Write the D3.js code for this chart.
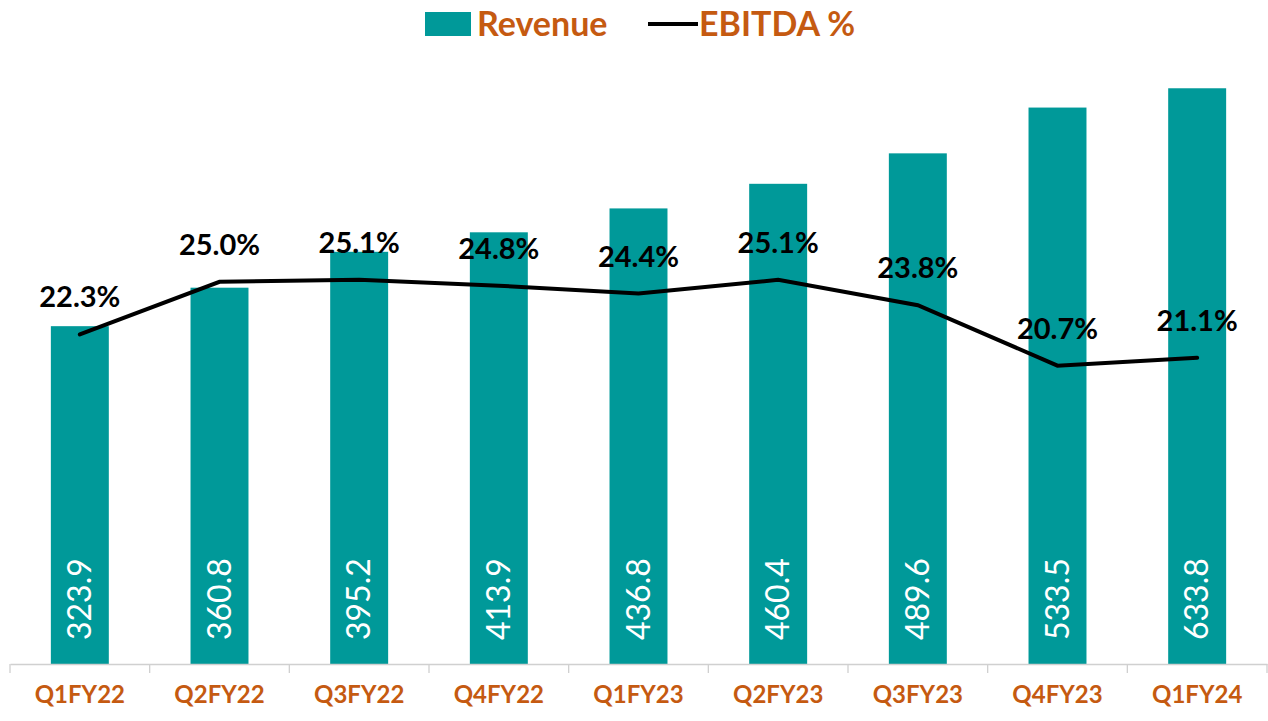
<!DOCTYPE html>
<html><head><meta charset="utf-8">
<script src="https://cdn.jsdelivr.net/npm/d3@7"></script>
<style>body{margin:0;background:#fff;font-family:Lato,"Open Sans",sans-serif;}</style>
</head><body><svg id="c" width="1268" height="721"></svg>
<script>
const categories = ["Q1FY22","Q2FY22","Q3FY22","Q4FY22","Q1FY23","Q2FY23","Q3FY23","Q4FY23","Q1FY24"];
const revenue = [323.9,360.8,395.2,413.9,436.8,460.4,489.6,533.5,552.0];
const revenueLabels = ["323.9","360.8","395.2","413.9","436.8","460.4","489.6","533.5","633.8"];
const ebitda = [22.3,25.0,25.1,24.8,24.4,25.1,23.8,20.7,21.1];

const teal = "#009999", orange = "#C55A11";
const svg = d3.select("#c");
const pLeft = 10, pRight = 1267, pTop = 54, pBottom = 664;

const x = d3.scaleBand().domain(categories).range([pLeft, pRight]).paddingInner(0.585).paddingOuter(0.2925);
const y = d3.scaleLinear().domain([0, (pBottom - pTop) / 1.043]).range([pBottom, pTop]);
const y2 = d3.scaleLinear().domain([5.4, 5.4 + (pBottom - pTop) / 19.5]).range([pBottom, pTop]);

// bars
svg.append("g").selectAll("rect").data(categories).join("rect")
  .attr("x", d => x(d)).attr("width", x.bandwidth())
  .attr("y", (d, i) => y(revenue[i])).attr("height", (d, i) => y(0) - y(revenue[i]))
  .attr("fill", teal);

// axis
const xb = d3.scaleBand().domain(categories).range([pLeft, pRight]);
const ax = svg.append("g").attr("transform", `translate(0,${pBottom})`)
  .call(d3.axisBottom(xb).tickSize(0).tickPadding(22));
ax.select(".domain").attr("stroke", "#d0d0d0").attr("stroke-width", 1.3);
ax.selectAll("text").attr("fill", orange).attr("font-size", 24).attr("font-weight", "bold")
  .attr("font-family", "Lato, sans-serif");
svg.append("g").selectAll("line").data(d3.range(categories.length + 1)).join("line")
  .attr("x1", i => pLeft + i * xb.step()).attr("x2", i => pLeft + i * xb.step())
  .attr("y1", pBottom).attr("y2", pBottom + 9).attr("stroke", "#d0d0d0").attr("stroke-width", 1.3);

// bar labels
svg.append("g").selectAll("text").data(categories).join("text")
  .attr("transform", d => `translate(${x(d) + x.bandwidth() / 2 + 11},${pBottom - 24}) rotate(-90)`)
  .attr("fill", "#fff").attr("font-size", 32).attr("font-family", "Lato, sans-serif")
  .text((d, i) => revenueLabels[i]);

// line
const cx = d => x(d) + x.bandwidth() / 2;
svg.append("path").datum(categories)
  .attr("d", d3.line().x(cx).y((d, i) => y2(ebitda[i])))
  .attr("fill", "none").attr("stroke", "#000").attr("stroke-width", 4).attr("stroke-linecap", "round");

svg.append("g").selectAll("text").data(categories).join("text")
  .attr("x", cx).attr("y", (d, i) => y2(ebitda[i]) - 27)
  .attr("text-anchor", "middle").attr("font-size", 29).attr("font-weight", "bold")
  .attr("font-family", "Lato, sans-serif").attr("fill", "#000")
  .text((d, i) => ebitda[i].toFixed(1) + "%");

// legend
const lg = svg.append("g");
lg.append("rect").attr("x", 425).attr("y", 12).attr("width", 46).attr("height", 24).attr("fill", teal);
lg.append("text").attr("x", 477).attr("y", 36).attr("fill", orange).attr("font-size", 34)
  .attr("font-weight", "bold").attr("font-family", "Lato, sans-serif").text("Revenue");
lg.append("line").attr("x1", 648).attr("x2", 698).attr("y1", 24).attr("y2", 24)
  .attr("stroke", "#000").attr("stroke-width", 4);
lg.append("text").attr("x", 699).attr("y", 36).attr("fill", orange).attr("font-size", 34)
  .attr("font-weight", "bold").attr("font-family", "Lato, sans-serif").text("EBITDA %");
</script></body></html>
